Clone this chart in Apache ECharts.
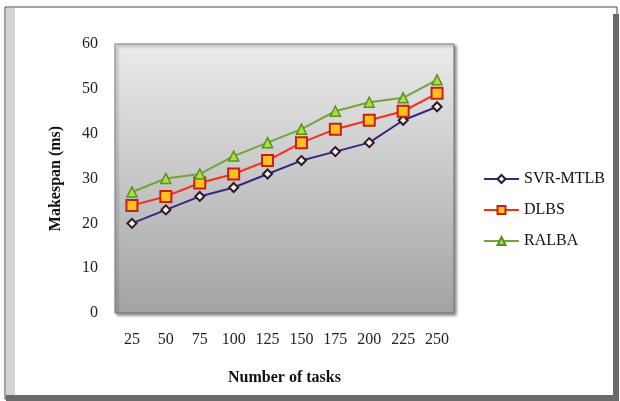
<!DOCTYPE html>
<html>
<head>
<meta charset="utf-8">
<script src="https://cdn.jsdelivr.net/npm/echarts@6/dist/echarts.min.js"></script>
<style>
  html, body { margin: 0; padding: 0; background: #fff; }
  #chart { width: 620px; height: 401px; }
</style>
</head>
<body>
<div id="chart"></div>
<script>
const tasks = ['25', '50', '75', '100', '125', '150', '175', '200', '225', '250']
const svrMtlb = [20, 23, 26, 28, 31, 34, 36, 38, 43, 46]
const dlbs = [24, 26, 29, 31, 34, 38, 41, 43, 45, 49]
const ralba = [27, 30, 31, 35, 38, 41, 45, 47, 48, 52]

const font = '"Liberation Serif", "Times New Roman", serif'
const chart = echarts.init(document.getElementById('chart'))

chart.setOption({
  animation: false,
  backgroundColor: '#fff',
  textStyle: { fontFamily: font },
  graphic: [
    // outer frame
    { type: 'rect', shape: { x: 5, y: 7, width: 612, height: 392 },
      style: { fill: '#fff', stroke: '#444', lineWidth: 1 }, z: -10 },
    { type: 'rect', shape: { x: 6, y: 8, width: 9, height: 390 },
      style: { fill: '#d4d4d4' }, z: -9 },
    { type: 'rect', shape: { x: 613, y: 14, width: 6, height: 386 },
      style: { fill: '#6a6a6a' }, z: -9 },
    { type: 'rect', shape: { x: 6, y: 395, width: 613, height: 6 },
      style: { fill: '#6a6a6a' }, z: -9 }
  ],
  grid: {
    left: 115, top: 44, right: 166, bottom: 88,
    show: true,
    borderColor: '#777',
    borderWidth: 1,
    shadowColor: 'rgba(0,0,0,0.45)',
    shadowBlur: 3,
    shadowOffsetX: 2,
    shadowOffsetY: 2,
    backgroundColor: new echarts.graphic.LinearGradient(0, 0, 0, 1, [
      { offset: 0, color: '#ebebeb' },
      { offset: 1, color: '#a3a3a3' }
    ])
  },
  legend: {
    orient: 'vertical',
    left: 483,
    top: 171,
    padding: 0,
    itemWidth: 35,
    itemHeight: 10,
    itemGap: 15,
    textStyle: { fontFamily: font, fontSize: 16, color: '#111' },
    data: ['SVR-MTLB', 'DLBS', 'RALBA']
  },
  xAxis: {
    type: 'category',
    data: tasks,
    name: 'Number of tasks',
    nameLocation: 'middle',
    nameGap: 57,
    nameTextStyle: { fontFamily: font, fontSize: 16, fontWeight: 'bold', color: '#111' },
    axisLine: { show: false },
    axisTick: { show: false },
    axisLabel: { fontFamily: font, fontSize: 16, color: '#222', margin: 19 }
  },
  yAxis: {
    type: 'value',
    min: 0,
    max: 60,
    interval: 10,
    name: 'Makespan (ms)',
    nameLocation: 'middle',
    nameGap: 51,
    nameTextStyle: { fontFamily: font, fontSize: 16, fontWeight: 'bold', color: '#111' },
    axisLine: { show: false },
    axisTick: { show: false },
    splitLine: { show: false },
    axisLabel: { fontFamily: font, fontSize: 16, color: '#222', margin: 17 }
  },
  series: [
    {
      name: 'SVR-MTLB',
      type: 'line',
      data: svrMtlb,
      symbol: 'diamond',
      symbolSize: 9,
      lineStyle: { color: '#3a2680', width: 2 },
      itemStyle: { color: '#fff3d6', borderColor: '#2a1a30', borderWidth: 2 }
    },
    {
      name: 'DLBS',
      type: 'line',
      data: dlbs,
      symbol: 'rect',
      symbolSize: 11,
      lineStyle: { color: '#ff2a1a', width: 2 },
      itemStyle: { color: '#ffc020', borderColor: '#c82010', borderWidth: 2 }
    },
    {
      name: 'RALBA',
      type: 'line',
      data: ralba,
      symbol: 'triangle',
      symbolSize: 10,
      lineStyle: { color: '#72a33c', width: 2 },
      itemStyle: { color: '#a8e040', borderColor: '#5a9020', borderWidth: 1.5 }
    }
  ]
})
</script>
</body>
</html>
